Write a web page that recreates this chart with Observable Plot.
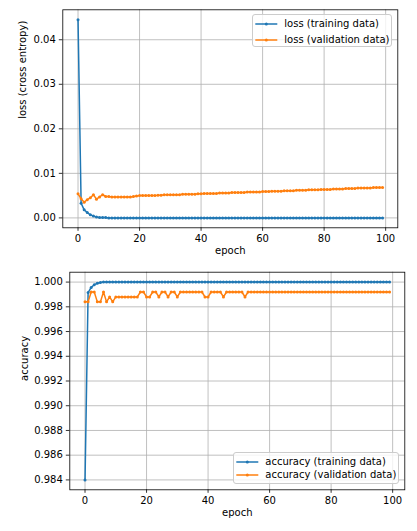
<!DOCTYPE html>
<html>
<head>
<meta charset="utf-8">
<script src="https://cdn.jsdelivr.net/npm/d3@7"></script>
<script src="https://cdn.jsdelivr.net/npm/@observablehq/plot@0.6"></script>
<style>
  html, body { margin: 0; padding: 0; background: white; }
  #wrap { position: relative; width: 417px; height: 531px; font-family: "DejaVu Sans", sans-serif; font-size: 10px; color: black; overflow: hidden; }
  #wrap svg.plot { position: absolute; left: 0; }
  .legend { position: absolute; background: rgba(255,255,255,0.8); border: 1px solid #cccccc; border-radius: 3px; box-sizing: border-box; }
  .legend .row { position: absolute; left: 0; height: 12px; white-space: nowrap; }
  .legend .row svg { position: absolute; top: 0; }
  .legend .row span { position: absolute; top: 0; line-height: 12px; }
</style>
</head>
<body>
<div id="wrap"></div>
<script>
// ---- data ----
const epochs = d3.range(100);

const lossTrain = [
  0.0445, 0.0033, 0.0018, 0.0012, 0.0007, 0.0004, 0.0002, 0.0001, 0.0001, 0.0001,
  0.0000, 0.0000, 0.0000, 0.0000, 0.0000, 0.0000, 0.0000, 0.0000, 0.0000, 0.0000,
  0.0000, 0.0000, 0.0000, 0.0000, 0.0000, 0.0000, 0.0000, 0.0000, 0.0000, 0.0000,
  0.0000, 0.0000, 0.0000, 0.0000, 0.0000, 0.0000, 0.0000, 0.0000, 0.0000, 0.0000,
  0.0000, 0.0000, 0.0000, 0.0000, 0.0000, 0.0000, 0.0000, 0.0000, 0.0000, 0.0000,
  0.0000, 0.0000, 0.0000, 0.0000, 0.0000, 0.0000, 0.0000, 0.0000, 0.0000, 0.0000,
  0.0000, 0.0000, 0.0000, 0.0000, 0.0000, 0.0000, 0.0000, 0.0000, 0.0000, 0.0000,
  0.0000, 0.0000, 0.0000, 0.0000, 0.0000, 0.0000, 0.0000, 0.0000, 0.0000, 0.0000,
  0.0000, 0.0000, 0.0000, 0.0000, 0.0000, 0.0000, 0.0000, 0.0000, 0.0000, 0.0000,
  0.0000, 0.0000, 0.0000, 0.0000, 0.0000, 0.0000, 0.0000, 0.0000, 0.0000, 0.0000
];

const lossVal = [
  0.0054, 0.0043, 0.0035, 0.0041, 0.0045, 0.0052, 0.0042, 0.0047, 0.0052, 0.0048,
  0.0048, 0.0047, 0.0047, 0.0047, 0.0047, 0.0047, 0.0047, 0.0047, 0.0048, 0.0049,
  0.0050, 0.0050, 0.0050, 0.0050, 0.0050, 0.0050, 0.0051, 0.0051, 0.0052, 0.0052,
  0.0052, 0.0052, 0.0052, 0.0052, 0.0053, 0.0053, 0.0053, 0.0053, 0.0053, 0.0054,
  0.0054, 0.0055, 0.0055, 0.0055, 0.0055, 0.0055, 0.0056, 0.0056, 0.0056, 0.0056,
  0.0057, 0.0057, 0.0057, 0.0057, 0.0057, 0.0058, 0.0058, 0.0058, 0.0058, 0.0058,
  0.0059, 0.0059, 0.0059, 0.0060, 0.0060, 0.0060, 0.0060, 0.0061, 0.0061, 0.0061,
  0.0061, 0.0062, 0.0062, 0.0062, 0.0062, 0.0063, 0.0063, 0.0063, 0.0063, 0.0064,
  0.0064, 0.0064, 0.0064, 0.0065, 0.0065, 0.0065, 0.0065, 0.0066, 0.0066, 0.0066,
  0.0066, 0.0067, 0.0067, 0.0067, 0.0067, 0.0067, 0.0068, 0.0068, 0.0068, 0.0068
];

const accTrain = [
  0.9840, 0.99915, 0.99957, 0.99979, 0.99990, 0.99997, 1.0000, 1.0000, 1.0000, 1.0000,
  1.0000, 1.0000, 1.0000, 1.0000, 1.0000, 1.0000, 1.0000, 1.0000, 1.0000, 1.0000,
  1.0000, 1.0000, 1.0000, 1.0000, 1.0000, 1.0000, 1.0000, 1.0000, 1.0000, 1.0000,
  1.0000, 1.0000, 1.0000, 1.0000, 1.0000, 1.0000, 1.0000, 1.0000, 1.0000, 1.0000,
  1.0000, 1.0000, 1.0000, 1.0000, 1.0000, 1.0000, 1.0000, 1.0000, 1.0000, 1.0000,
  1.0000, 1.0000, 1.0000, 1.0000, 1.0000, 1.0000, 1.0000, 1.0000, 1.0000, 1.0000,
  1.0000, 1.0000, 1.0000, 1.0000, 1.0000, 1.0000, 1.0000, 1.0000, 1.0000, 1.0000,
  1.0000, 1.0000, 1.0000, 1.0000, 1.0000, 1.0000, 1.0000, 1.0000, 1.0000, 1.0000,
  1.0000, 1.0000, 1.0000, 1.0000, 1.0000, 1.0000, 1.0000, 1.0000, 1.0000, 1.0000,
  1.0000, 1.0000, 1.0000, 1.0000, 1.0000, 1.0000, 1.0000, 1.0000, 1.0000, 1.0000
];

const accVal = [
  0.9984, 0.9984, 0.9992, 0.9992, 0.9984, 0.9984, 0.9992, 0.9984, 0.9988, 0.9984,
  0.9988, 0.9988, 0.9988, 0.9988, 0.9988, 0.9988, 0.9988, 0.9988, 0.9992, 0.9992,
  0.9988, 0.9988, 0.9992, 0.9992, 0.9988, 0.9992, 0.9992, 0.9988, 0.9992, 0.9992,
  0.9988, 0.9992, 0.9992, 0.9992, 0.9992, 0.9992, 0.9992, 0.9992, 0.9992, 0.9988,
  0.9988, 0.9992, 0.9992, 0.9992, 0.9992, 0.9988, 0.9992, 0.9992, 0.9992, 0.9992,
  0.9992, 0.9992, 0.9988, 0.9992, 0.9992, 0.9992, 0.9992, 0.9992, 0.9992, 0.9992,
  0.9992, 0.9992, 0.9992, 0.9992, 0.9992, 0.9992, 0.9992, 0.9992, 0.9992, 0.9992,
  0.9992, 0.9992, 0.9992, 0.9992, 0.9992, 0.9992, 0.9992, 0.9992, 0.9992, 0.9992,
  0.9992, 0.9992, 0.9992, 0.9992, 0.9992, 0.9992, 0.9992, 0.9992, 0.9992, 0.9992,
  0.9992, 0.9992, 0.9992, 0.9992, 0.9992, 0.9992, 0.9992, 0.9992, 0.9992, 0.9992
];

const xTicks = [0, 20, 40, 60, 80, 100];
const lossTicks = [0.00, 0.01, 0.02, 0.03, 0.04];
const accTicks = [0.984, 0.986, 0.988, 0.990, 0.992, 0.994, 0.996, 0.998, 1.000];

const lossLabels = ["loss (training data)", "loss (validation data)"];
const accLabels = ["accuracy (training data)", "accuracy (validation data)"];
const colors = ["#1f77b4", "#ff7f0e"];

// ---- drawing ----
const wrap = document.getElementById("wrap");

function panel({top, height, mL, mR, mT, mB, yDomain, yTicks, yFmt, series, ylabel, ylabelDx}) {
  const rows = [];
  series.forEach((vals, s) => epochs.forEach((e, i) => rows.push({epoch: e, value: vals[i], s})));
  const marks = [
    Plot.gridX(xTicks, {stroke: "#b0b0b0", strokeOpacity: 1, strokeWidth: 0.8}),
    Plot.gridY(yTicks, {stroke: "#b0b0b0", strokeOpacity: 1, strokeWidth: 0.8}),
  ];
  series.forEach((vals, s) => {
    const d = rows.filter(r => r.s === s);
    marks.push(Plot.line(d, {x: "epoch", y: "value", stroke: colors[s], strokeWidth: 1.5}));
    marks.push(Plot.dot(d, {x: "epoch", y: "value", r: 1.5, fill: colors[s], stroke: "none"}));
  });
  marks.push(
    Plot.frame({stroke: "black", strokeWidth: 0.8}),
    Plot.axisX({ticks: xTicks, tickFormat: d => String(d), tickSize: 3.5, tickPadding: 3.5, label: null, stroke: "black", strokeWidth: 0.8, fill: "black"}),
    Plot.axisY({ticks: yTicks, tickFormat: yFmt, tickSize: 3.5, tickPadding: 3.5, label: null, stroke: "black", strokeWidth: 0.8, fill: "black"}),
    Plot.text(["epoch"], {text: d => d, frameAnchor: "bottom", dy: 25.7, fill: "black"}),
    Plot.text([ylabel], {text: d => d, frameAnchor: "left", dx: ylabelDx, rotate: -90, fill: "black"})
  );
  const svg = Plot.plot({
    width: 417, height,
    marginLeft: mL, marginRight: mR, marginTop: mT, marginBottom: mB,
    x: {domain: [-4.95, 103.95]},
    y: {domain: yDomain},
    style: {fontFamily: "DejaVu Sans", fontSize: "10px", background: "transparent", color: "black", overflow: "visible"},
    marks
  });
  svg.classList.add("plot");
  svg.style.top = top + "px";
  wrap.appendChild(svg);
}

panel({top: 0, height: 262, mL: 62.3, mR: 19.7, mT: 9.3, mB: 34.7,
  yDomain: [-0.002225, 0.046725], yTicks: lossTicks, yFmt: d3.format(".2f"),
  series: [lossTrain, lossVal], ylabel: "loss (cross entropy)", ylabelDx: -39.6});

panel({top: 262, height: 269, mL: 69.3, mR: 12.7, mT: 9.7, mB: 41.7,
  yDomain: [0.9832, 1.0008], yTicks: accTicks, yFmt: d3.format(".3f"),
  series: [accTrain, accVal], ylabel: "accuracy", ylabelDx: -45.3});

function legend(left, top, width, height, labels, rowYs, lineX0, lineX1, textX) {
  const box = document.createElement("div");
  box.className = "legend";
  Object.assign(box.style, {left: left + "px", top: top + "px", width: width + "px", height: height + "px"});
  labels.forEach((lab, i) => {
    const row = document.createElement("div");
    row.className = "row";
    row.style.top = (rowYs[i] - top - 6) + "px";
    row.style.width = (width) + "px";
    const ns = "http://www.w3.org/2000/svg";
    const s = document.createElementNS(ns, "svg");
    s.setAttribute("width", width); s.setAttribute("height", 12);
    s.style.left = "0px";
    const ln = document.createElementNS(ns, "line");
    ln.setAttribute("x1", lineX0 - left); ln.setAttribute("x2", lineX1 - left);
    ln.setAttribute("y1", 6); ln.setAttribute("y2", 6);
    ln.setAttribute("stroke", colors[i]); ln.setAttribute("stroke-width", 1.5);
    const c = document.createElementNS(ns, "circle");
    c.setAttribute("cx", (lineX0 + lineX1) / 2 - left); c.setAttribute("cy", 6); c.setAttribute("r", 1.5);
    c.setAttribute("fill", colors[i]);
    s.appendChild(ln); s.appendChild(c);
    const sp = document.createElement("span");
    sp.textContent = lab;
    sp.style.left = (textX - left) + "px";
    row.appendChild(s); row.appendChild(sp);
    box.appendChild(row);
  });
  wrap.appendChild(box);
}

legend(251.7, 14.3, 140, 32.4, lossLabels, [23.3, 39.3], 254, 276, 283.3);
legend(232.7, 451.7, 166.6, 32.3, accLabels, [460.7, 474.5], 235, 257, 264.3);
</script>
</body>
</html>
